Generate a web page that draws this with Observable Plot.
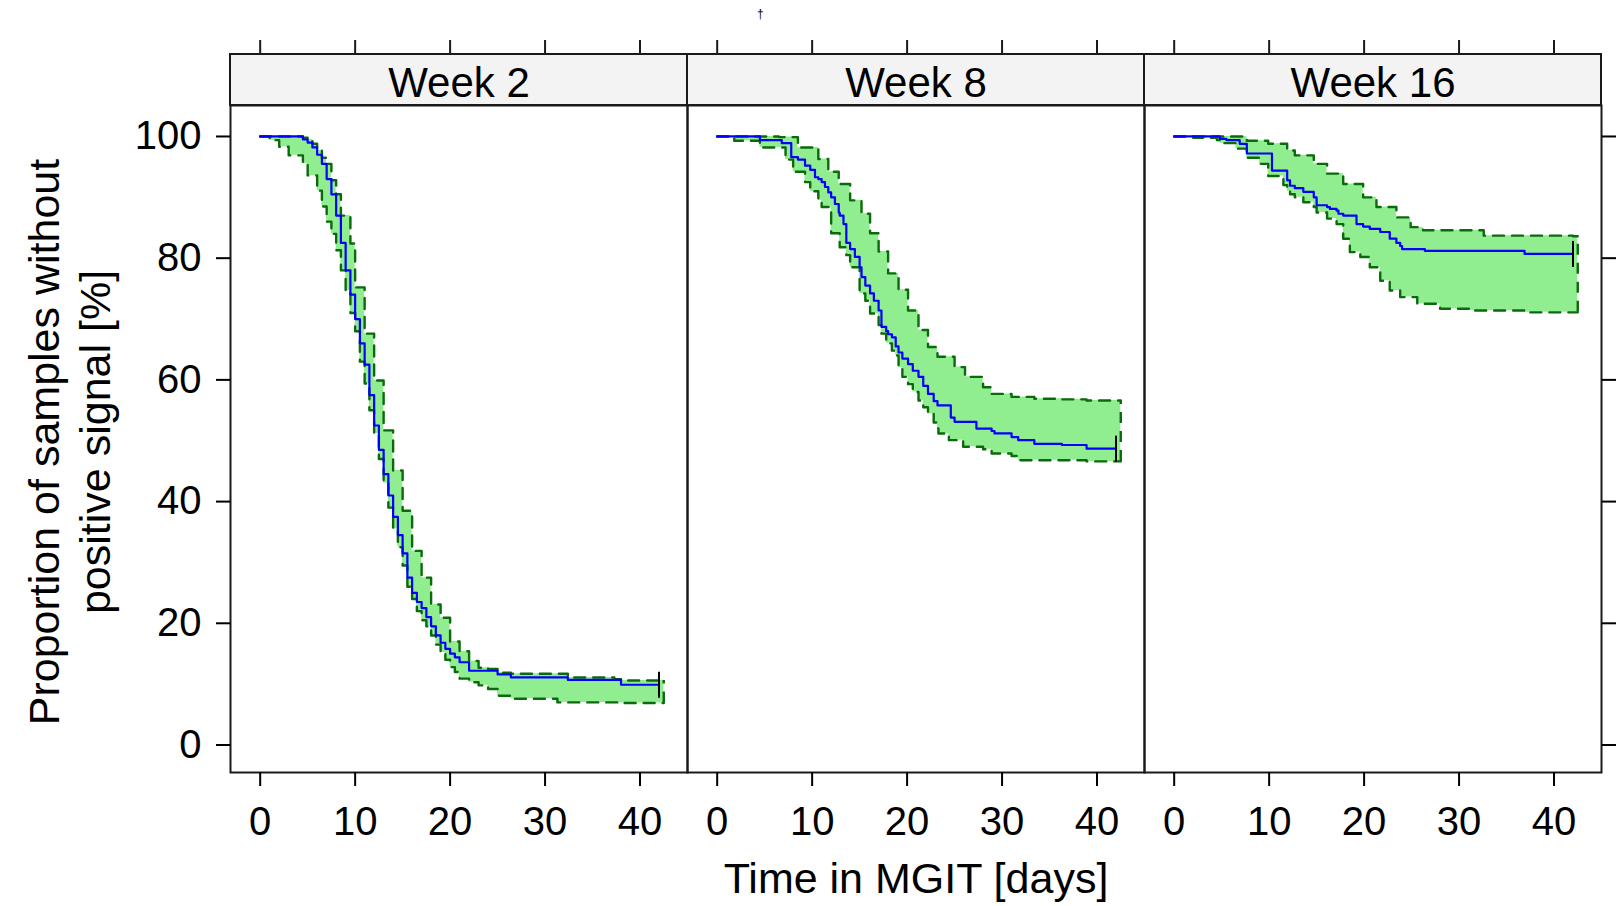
<!DOCTYPE html>
<html>
<head>
<meta charset="utf-8">
<script src="https://cdn.jsdelivr.net/npm/d3@7"></script>
<script src="https://cdn.jsdelivr.net/npm/@observablehq/plot@0.6"></script>
<style>
  html, body { margin: 0; padding: 0; background: #ffffff; }
  #chart { width: 1620px; height: 906px; }
</style>
</head>
<body>
<div id="chart"></div>
<script>
// ---------- data ----------
const weeks = ["Week 2", "Week 8", "Week 16"];
const xTicks = [0, 10, 20, 30, 40];
const yTicks = [0, 20, 40, 60, 80, 100];
const xTitle = "Time in MGIT [days]";
const yTitle = "Proportion of samples without\npositive signal [%]";
const censorTime = 42;

// Week 2
const week2Time  = [0,1,2,3,4,4.5,5,5.5,6,6.5,7,7.5,8,8.5,9,9.5,10,10.5,11,11.5,12,12.5,13,13.5,14,14.5,15,15.5,16,16.5,17,17.5,18,18.5,19,19.5,20,20.5,21,22,23,24,25,26.4,31.3,32.4,37.3,38,42,42.5];
const week2Est   = [100,100,100,100,100,99.5,99,98.2,97,95.5,93,90.5,87,82.5,78,74,70,66,62.5,57.5,52.5,48.5,44.5,41,37.5,34.5,31.5,27.5,25,23.5,22.5,21,19.5,18,16.8,15.8,15,14.4,13.6,12.2,12.2,12.2,11.6,11.1,11.1,10.7,10.7,9.9,9.9,9.9];
const week2Lower = [100,99.4,98.3,96.9,96.9,95.5,93.6,93.6,91.1,88.5,86,84,81.3,78,74.7,71,68,63,59.4,55,51.2,47,43,39,35.5,32.5,29.5,26,24,22,20.5,19.5,18,16.5,15.2,14,12.8,12,10.9,10.3,9.8,9.2,8.1,7.6,7.0,7.0,7.0,6.9,6.9,6.9];
const week2Upper = [100,100,100,100,100,99.8,99.5,98.8,97.7,96.5,95.5,92.8,90.5,87,87,82.4,75.2,75.2,67.6,67.6,59.9,59.9,51.7,51.7,45.1,45.1,38.5,38.5,31.9,31.9,27.5,27.5,23.1,23.1,20.9,20.9,17.0,17.0,15.4,13.8,12.7,12.5,11.9,11.7,11.7,11.1,10.8,10.6,10.6,10.6];

// Week 8
const week8Time  = [0,1.8,4.5,6.5,6.8,7.2,7.8,8.0,8.5,9.25,9.8,10.3,10.65,11.0,11.35,11.7,12.0,12.4,12.8,12.9,13.3,13.6,14.0,14.5,15.0,15.2,15.6,16.1,16.5,17.0,17.3,17.8,18.0,18.4,18.8,19.1,19.5,20.1,20.6,21.2,21.7,22.2,22.8,23.2,23.3,24.4,24.6,25.0,25.9,26.1,27.3,28.0,28.9,29.2,31.0,31.7,33.4,36.3,38.9,42,42.5];
const week8Est   = [100,100,99.4,99.4,98.9,98.9,96.6,96.6,96.2,95.2,94.5,93.3,93.0,92.5,91.7,90.8,90.0,88.9,87.5,87.0,85.6,82.5,81.5,80.2,78.5,76.9,75.5,74.2,73.0,71.4,68.7,68.0,67.5,67.0,65.5,64.5,63.5,62.6,61.5,60.5,59.0,57.7,56.5,55.8,55.8,55.8,53.8,53.1,53.1,53.1,52.0,52.0,51.6,51.2,50.6,50.1,49.5,49.3,48.7,48.7,48.7];
const week8Lower = [100,99.3,98.2,98.2,98.2,96.2,96.2,94.2,94.2,92.5,91.0,91.0,89.5,88.4,88.4,88.4,84.1,84.1,84.1,81.8,81.8,80.5,78.5,78.5,74.2,74.2,73.0,70.9,70.9,69.0,67.6,66.0,66.0,64.8,64.0,62.0,60.5,59.3,58.0,56.6,55.5,54.4,53.0,52.0,51.2,50.1,50.1,50.1,49.0,49.0,49.0,48.6,47.9,47.9,47.5,46.8,46.8,46.8,46.6,46.6,46.6];
const week8Upper = [100,100,100,99.9,99.9,99.9,99.9,99.9,98.2,98.2,98.2,98.2,96.3,96.3,96.3,94.2,94.2,94.2,92.2,92.2,92.2,92.2,89.5,89.5,89.5,87.3,87.3,84.1,84.1,81.1,81.1,81.1,77.5,77.5,77.5,74.8,74.8,71.4,71.4,68.2,68.2,65.4,65.4,63.8,63.8,63.8,63.8,62.1,62.1,60.5,60.5,58.8,57.7,57.7,57.2,57.2,56.9,56.8,56.6,56.6,56.6];

// Week 16
const week16Time  = [0,2,4.5,4.8,5.5,6.5,6.9,7.65,9.0,9.9,10.3,11.5,11.9,12.2,12.7,13.6,14.7,15.0,16.1,16.4,17.1,17.3,17.8,18.5,19.2,19.6,19.9,20.6,21.3,21.7,22.7,23.4,23.8,24.0,24.9,25.6,26.2,26.4,28.0,31.2,32.6,36.9,42,42.5];
const week16Est   = [100,100,100,99.6,99.4,99.4,98.8,97.2,97.2,97.2,94.4,94.4,92.8,91.9,91.5,90.9,90.0,88.7,88.4,88.1,87.8,87.3,87.0,87.0,85.6,85.6,85.2,84.8,84.8,84.3,83.2,82.5,82.0,81.5,81.5,81.5,81.5,81.2,81.2,81.2,81.2,80.7,80.7,80.7];
const week16Lower = [100,99.8,99.4,98.9,98.9,98.0,98.0,96.5,95.5,93.5,93.5,92.0,91.0,90.5,90.0,89.2,88.4,87.5,86.5,86.5,85.6,85.6,83.2,81.0,81.0,80.2,80.2,78.5,78.5,76.3,74.7,74.7,73.6,73.6,73.6,72.5,72.5,72.5,71.7,71.4,71.4,71.1,71.1,71.1];
const week16Upper = [100,100,100,100,100,100,100,99.3,99.3,98.8,98.8,98.8,97.7,97.7,96.9,96.9,95.5,95.5,93.9,93.9,93.9,93.9,92.2,92.2,92.2,92.2,90.0,90.0,88.4,88.4,88.4,86.7,86.7,86.7,85.1,85.1,84.6,84.6,84.6,84.6,83.7,83.7,83.6,83.6];

// ---------- layout ----------
const W = 1620, H = 906;
const mLeft = 229.3, mRight = 19, mTop = 105, mBottom = 134;
const xDomain = [-3.126, 45.0];
const yDomain = [-4.52, 105.09];
const pxToV = (px) => yDomain[1] - (px - mTop) * (yDomain[1] - yDomain[0]) / (H - mTop - mBottom);
const stripBottomV = yDomain[1];
const stripTopV = pxToV(54);
const topTickEndV = pxToV(40);

const series = [
  {week: "Week 2",  time: week2Time,  est: week2Est,  lo: week2Lower,  hi: week2Upper},
  {week: "Week 8",  time: week8Time,  est: week8Est,  lo: week8Lower,  hi: week8Upper},
  {week: "Week 16", time: week16Time, est: week16Est, lo: week16Lower, hi: week16Upper}
];
const rows = series.flatMap(s => s.time.map((t, i) => ({week: s.week, t, est: s.est[i], lo: s.lo[i], hi: s.hi[i]})));
const estRows = rows.filter(d => d.t <= censorTime);
const ends = series.map(s => { const n = s.time.length - 1; return {week: s.week, t: s.time[n], lo: s.lo[n], hi: s.hi[n]}; });
const censor = series.map(s => ({week: s.week, t: censorTime, est: s.est[s.time.indexOf(censorTime)]}));
const topTicks = weeks.flatMap(w => xTicks.map(t => ({week: w, t})));
const strips = weeks.map(w => ({week: w}));

const censorBar = {
  draw(context, size) {
    const r = Math.sqrt(size / Math.PI);
    context.moveTo(0, -r);
    context.lineTo(0, r);
  }
};

const lineCol = "#1a1a1a";
const dashCol = "#0b6a0b";
const dash = "11,8";

const chart = Plot.plot({
  width: W, height: H,
  marginLeft: mLeft, marginRight: mRight, marginTop: mTop, marginBottom: mBottom,
  facet: {marginTop: 0, marginRight: 0, marginBottom: 0, marginLeft: 0},
  fx: {domain: weeks, padding: 0, axis: null, label: null},
  x: {domain: xDomain},
  y: {domain: yDomain},
  style: {fontFamily: "'Liberation Sans', Arial, sans-serif", fontSize: "40px", color: "#000", background: "#fff", overflow: "visible"},
  marks: [
    // strips
    Plot.rect(strips, {fx: "week", x1: xDomain[0], x2: xDomain[1], y1: stripBottomV, y2: stripTopV, fill: "#f3f3f3", stroke: lineCol, strokeWidth: 2}),
    Plot.text(strips, {fx: "week", text: "week", frameAnchor: "top", dy: -22.4, lineAnchor: "middle", fontSize: 42, fill: "#000"}),
    // top ticks above strips
    Plot.ruleX(topTicks, {fx: "week", x: "t", y1: stripTopV, y2: topTickEndV, stroke: lineCol, strokeWidth: 2}),
    // confidence band
    Plot.areaY(rows, {fx: "week", x: "t", y1: "lo", y2: "hi", curve: "step-after", fill: "#90ee90"}),
    Plot.line(rows, {fx: "week", x: "t", y: "lo", curve: "step-after", stroke: dashCol, strokeWidth: 2.4, strokeDasharray: dash}),
    Plot.line(rows, {fx: "week", x: "t", y: "hi", curve: "step-after", stroke: dashCol, strokeWidth: 2.4, strokeDasharray: dash}),
    Plot.ruleX(ends, {fx: "week", x: "t", y1: "lo", y2: "hi", stroke: dashCol, strokeWidth: 2.4, strokeDasharray: dash}),
    // estimate
    Plot.line(estRows, {fx: "week", x: "t", y: "est", curve: "step-after", stroke: "#0000ff", strokeWidth: 2.2}),
    Plot.dot(censor, {fx: "week", x: "t", y: "est", symbol: censorBar, r: 13, fill: "none", stroke: "#000", strokeWidth: 2}),
    // panel frames
    Plot.frame({stroke: lineCol, strokeWidth: 2}),
    // axes
    Plot.axisX({anchor: "bottom", ticks: xTicks, tickSize: 14, tickPadding: 20, fontSize: 40, label: null, strokeWidth: 2}),
    Plot.axisY({anchor: "left", ticks: yTicks, tickSize: 14, tickPadding: 15, fontSize: 40, label: null, strokeWidth: 2}),
    Plot.axisY({anchor: "right", ticks: yTicks, tickSize: 14, tickFormat: () => "", label: null, strokeWidth: 2}),
    // axis titles
    Plot.text([xTitle], {fx: () => "Week 8", text: d => d, frameAnchor: "bottom", dy: 107, lineAnchor: "middle", fontSize: 43, fill: "#000"}),
    Plot.text([yTitle], {fx: () => "Week 2", text: d => d, frameAnchor: "left", textAnchor: "middle", dx: -162.5, dy: 3, rotate: -90, lineAnchor: "middle", lineHeight: 1.2, fontSize: 43, fill: "#000"}),
    Plot.text(["\u2020"], {fx: () => "Week 8", text: d => d, frameAnchor: "top-left", dx: 69.5, dy: -91, lineAnchor: "middle", fontSize: 12, fill: "#000"})
  ]
});
document.getElementById("chart").appendChild(chart);
</script>
</body>
</html>
